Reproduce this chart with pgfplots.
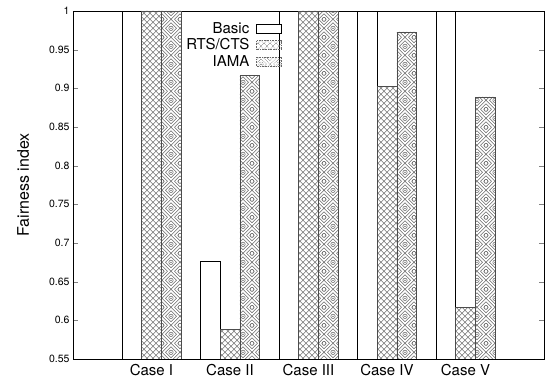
\documentclass[border=0pt]{standalone}
\usepackage{fontspec}
\setmainfont{TeX Gyre Heros}
\usepackage{pgfplots}
\pgfplotsset{compat=1.18}
\usetikzlibrary{patterns}

\pgfdeclarepatternformonly{diagcross}{\pgfqpoint{-0.5pt}{-0.5pt}}{\pgfqpoint{6.5pt}{6.5pt}}{\pgfqpoint{6pt}{6pt}}{%
  \pgfsetlinewidth{0.5pt}%
  \pgfpathmoveto{\pgfqpoint{0pt}{0pt}}\pgfpathlineto{\pgfqpoint{6pt}{6pt}}%
  \pgfpathmoveto{\pgfqpoint{0pt}{6pt}}\pgfpathlineto{\pgfqpoint{6pt}{0pt}}%
  \pgfusepath{stroke}}

\pgfdeclarepatternformonly{iama}{\pgfqpoint{-0.5pt}{-0.5pt}}{\pgfqpoint{18.5pt}{18.5pt}}{\pgfqpoint{18pt}{18pt}}{%
  \pgfsetlinewidth{0.55pt}%
  \pgfpathmoveto{\pgfqpoint{9pt}{0pt}}\pgfpathlineto{\pgfqpoint{18pt}{9pt}}%
  \pgfpathlineto{\pgfqpoint{9pt}{18pt}}\pgfpathlineto{\pgfqpoint{0pt}{9pt}}\pgfpathclose
  \pgfpathmoveto{\pgfqpoint{9pt}{3.5pt}}\pgfpathlineto{\pgfqpoint{14.5pt}{9pt}}%
  \pgfpathlineto{\pgfqpoint{9pt}{14.5pt}}\pgfpathlineto{\pgfqpoint{3.5pt}{9pt}}\pgfpathclose
  \pgfpathmoveto{\pgfqpoint{0pt}{5.5pt}}\pgfpathlineto{\pgfqpoint{5.5pt}{0pt}}%
  \pgfpathmoveto{\pgfqpoint{12.5pt}{0pt}}\pgfpathlineto{\pgfqpoint{18pt}{5.5pt}}%
  \pgfpathmoveto{\pgfqpoint{18pt}{12.5pt}}\pgfpathlineto{\pgfqpoint{12.5pt}{18pt}}%
  \pgfpathmoveto{\pgfqpoint{5.5pt}{18pt}}\pgfpathlineto{\pgfqpoint{0pt}{12.5pt}}%
  \pgfpathcircle{\pgfqpoint{9pt}{9pt}}{2.2pt}%
  \pgfpathcircle{\pgfqpoint{0pt}{0pt}}{2pt}%
  \pgfpathcircle{\pgfqpoint{18pt}{0pt}}{2pt}%
  \pgfpathcircle{\pgfqpoint{0pt}{18pt}}{2pt}%
  \pgfpathcircle{\pgfqpoint{18pt}{18pt}}{2pt}%
  \pgfusepath{stroke}%
  \pgfpathcircle{\pgfqpoint{9pt}{9pt}}{0.8pt}%
  \pgfusepath{fill}}

\begin{document}
\begin{tikzpicture}
\begin{axis}[
  scale only axis,
  width=471pt, height=348pt,
  xmin=0, xmax=6,
  ymin=0.55, ymax=1,
  ytick={0.55,0.6,0.65,0.7,0.75,0.8,0.85,0.9,0.95,1},
  yticklabel style={/pgf/number format/fixed, /pgf/number format/precision=2, font=\fontsize{10.5}{12}\selectfont},
  /pgf/number format/assume math mode=true,
  xtick={1,2,3,4,5},
  xticklabels={Case I, Case II, Case III, Case IV, Case V},
  xticklabel style={font=\fontsize{15}{17}\selectfont, yshift=3pt},
  xtick style={draw=none},
  ytick pos=both,
  tick align=inside,
  major tick length=5pt,
  ylabel={Fairness index},
  every axis y label/.style={at={(axis description cs:-0.106,0.5)}, rotate=90, anchor=center, font=\fontsize{16}{18}\selectfont},
  axis line style={line width=0.8pt},
  ybar,
  bar width=0.25,
  legend style={draw=none, fill=none, at={(0.444,0.974)}, anchor=north east,
    font=\fontsize{15}{17}\selectfont, inner sep=0pt, row sep=0pt, column sep=5pt, cells={anchor=east}},
  legend plot pos=right,
  legend cell align=right,
]
\addplot[bar shift=-0.25, fill=white, draw=black, line width=0.6pt,
  legend image code/.code={\draw[fill=white, draw=black, line width=0.6pt] (0pt,-4.5pt) rectangle (25pt,4.5pt);}]
  coordinates {(1,1) (2,0.676) (3,1) (4,1) (5,1)};
\addplot[bar shift=0, pattern=diagcross, pattern color=black!55, draw=black!70, line width=0.6pt,
  legend image code/.code={\draw[pattern=diagcross, pattern color=black!55, draw=black!60, densely dotted, line width=0.6pt] (0pt,-4.5pt) rectangle (25pt,4.5pt);}]
  coordinates {(1,1) (2,0.588) (3,1) (4,0.902) (5,0.617)};
\addplot[bar shift=0.25, pattern=iama, pattern color=black!60, draw=black!70, line width=0.6pt,
  legend image code/.code={\draw[pattern=iama, pattern color=black!60, draw=black!60, densely dotted, line width=0.6pt] (0pt,-4.5pt) rectangle (25pt,4.5pt);}]
  coordinates {(1,1) (2,0.917) (3,1) (4,0.973) (5,0.889)};
\legend{Basic, RTS/CTS, IAMA}
\end{axis}
\path[use as bounding box] (current axis.south west) ++(-73pt,-19pt) rectangle ++(549pt,378pt);
\end{tikzpicture}
\end{document}
